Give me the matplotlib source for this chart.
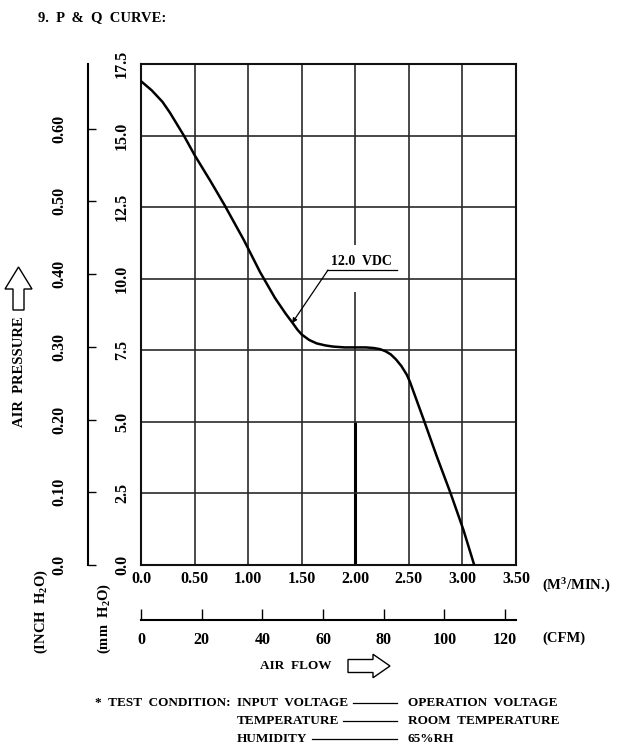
import matplotlib
matplotlib.use('Agg')
import matplotlib.pyplot as plt
from matplotlib.patches import FancyArrow
from matplotlib.lines import Line2D

plt.rcParams['font.family'] = ['Liberation Serif', 'DejaVu Serif']
plt.rcParams['font.weight'] = 'bold'
plt.rcParams['mathtext.fontset'] = 'custom'
plt.rcParams['mathtext.rm'] = 'Liberation Serif:bold'
plt.rcParams['mathtext.it'] = 'Liberation Serif:bold'
plt.rcParams['mathtext.default'] = 'regular'

# P-Q curve at 12.0 VDC (air flow in m3/min, pressure in mm H2O)
flow = [0.00, 0.10, 0.20, 0.27, 0.40, 0.50, 0.65, 0.78, 0.96, 1.11, 1.25, 1.35,
        1.41, 1.46, 1.50, 1.57, 1.64, 1.72, 1.79, 1.90, 2.00, 2.10, 2.17, 2.23,
        2.28, 2.33, 2.38, 2.43, 2.48, 2.51, 2.64, 2.76, 2.89, 3.01, 3.11]
pressure = [16.90, 16.58, 16.18, 15.80, 15.00, 14.32, 13.40, 12.57, 11.35, 10.24,
            9.33, 8.78, 8.48, 8.22, 8.05, 7.86, 7.74, 7.67, 7.63, 7.60, 7.60,
            7.60, 7.58, 7.54, 7.47, 7.36, 7.18, 6.95, 6.65, 6.40, 5.06, 3.80,
            2.50, 1.22, 0.00]

mm_ticks = [0.0, 2.5, 5.0, 7.5, 10.0, 12.5, 15.0, 17.5]
mm_labels = ['0.0', '2.5', '5.0', '7.5', '10.0', '12.5', '15.0', '17.5']
inch_ticks = [0.0, 0.1, 0.2, 0.3, 0.4, 0.5, 0.6]
inch_labels = ['0.0', '0.10', '0.20', '0.30', '0.40', '0.50', '0.60']
cmm_ticks = [0.0, 0.5, 1.0, 1.5, 2.0, 2.5, 3.0, 3.5]
cmm_labels = ['0.0', '0.50', '1.00', '1.50', '2.00', '2.50', '3.00', '3.50']
cfm_ticks = [0, 20, 40, 60, 80, 100, 120]
cfm_labels = ['0', '20', '40', '60', '80', '100', '120']

W, H = 627, 754
fig = plt.figure(figsize=(W / 100, H / 100), dpi=100)


def fx(px):
    return px / W


def fy(py):
    return 1 - py / H


# main grid
ax = fig.add_axes([fx(141), fy(565), fx(375), 501 / H])
ax.set_xlim(0, 3.5)
ax.set_ylim(0, 17.5)
grid_kw = dict(color='#2a2a2a', lw=1.2, zorder=1)
for x in cmm_ticks[1:-1]:
    if x == 2.0:
        ax.vlines(x, 0, 9.54, **grid_kw)
        ax.vlines(x, 11.18, 17.5, **grid_kw)
        ax.vlines(x, 0, 5.0, color='black', lw=2.2, zorder=1)
    else:
        ax.vlines(x, 0, 17.5, **grid_kw)
for y in mm_ticks[1:-1]:
    ax.hlines(y, 0, 3.5, **grid_kw)
for s in ax.spines.values():
    s.set_linewidth(1.5)
    s.set_color('#111111')

ax.plot(flow, pressure, color='black', lw=1.8, zorder=3, solid_joinstyle='round')

ax.set_yticks(mm_ticks)
ax.set_yticklabels(mm_labels, rotation=90, va='center')
ax.set_xticks(cmm_ticks)
ax.set_xticklabels(cmm_labels)
ax.tick_params(axis='y', length=0, pad=8, labelsize=11.5)
ax.tick_params(axis='x', length=0, pad=4, labelsize=11.5)

# 12.0 VDC label
ax.text(1.77, 10.38, '12.0  VDC', fontsize=10, ha='left', va='bottom', zorder=4)
ax.plot([1.74, 2.39], [10.3, 10.3], color='black', lw=0.9, zorder=4)
ax.annotate('', xy=(1.41, 8.45), xytext=(1.745, 10.3),
            arrowprops=dict(arrowstyle='-|>', lw=0.9, color='black',
                            mutation_scale=7, shrinkA=0, shrinkB=0), zorder=4)

# inch H2O axis
axi = fig.add_axes([fx(88), fy(565), 0.01, 501 / H])
axi.set_ylim(0, 17.5 / 25.4)
axi.set_xticks([])
for k in ['top', 'right', 'bottom']:
    axi.spines[k].set_visible(False)
axi.spines['left'].set_linewidth(1.5)
axi.patch.set_visible(False)
axi.set_yticks(inch_ticks)
axi.set_yticklabels(inch_labels, rotation=90, va='center')
axi.tick_params(axis='y', direction='in', length=6, width=1.0, pad=15, labelsize=11.5)

# CFM axis
axc = fig.add_axes([fx(141), fy(620), fx(375), 0.001])
axc.set_xlim(0, 3.5 * 35.3147)
axc.set_yticks([])
for k in ['top', 'right', 'left']:
    axc.spines[k].set_visible(False)
axc.spines['bottom'].set_linewidth(1.5)
axc.patch.set_visible(False)
axc.set_xticks(cfm_ticks)
axc.set_xticklabels(cfm_labels)
axc.tick_params(axis='x', direction='in', length=8, width=1.0, pad=9, labelsize=11.5)

# texts
fig.text(fx(38), fy(18), '9.  P  &  Q  CURVE:', ha='left', va='center', fontsize=10.5)
fig.text(fx(20), fy(372), 'AIR  PRESSURE', rotation=90, ha='center', va='center', fontsize=10.5)
fig.text(fx(41), fy(612), '(INCH  H$_2$O)', rotation=90, ha='center', va='center', fontsize=10.5)
fig.text(fx(104), fy(618), '(mm  H$_2$O)', rotation=90, ha='center', va='center', fontsize=10.5)
fig.text(fx(542), fy(586), '(M$^3$/MIN.)', ha='left', va='center', fontsize=10.5)
fig.text(fx(542), fy(638), '(CFM)', ha='left', va='center', fontsize=10.5)
fig.text(fx(332), fy(666), 'AIR  FLOW', ha='right', va='center', fontsize=9.5)

# block arrows (inches)
fig.patches.append(FancyArrow(0.185, (H - 310) / 100, 0, 0.43, width=0.11,
                              head_width=0.27, head_length=0.22,
                              length_includes_head=True, fc='white', ec='black',
                              lw=1.0, transform=fig.dpi_scale_trans))
fig.patches.append(FancyArrow(3.48, (H - 666) / 100, 0.42, 0, width=0.13,
                              head_width=0.235, head_length=0.17,
                              length_includes_head=True, fc='white', ec='black',
                              lw=1.0, transform=fig.dpi_scale_trans))

# test condition block
rows = [(703, 'INPUT  VOLTAGE', 353, 'OPERATION  VOLTAGE'),
        (721, 'TEMPERATURE', 343, 'ROOM  TEMPERATURE'),
        (739, 'HUMIDITY', 312, '65%RH')]
fig.text(fx(95), fy(703), '*  TEST  CONDITION:', ha='left', va='center', fontsize=9.5)
for py, left, x0, right in rows:
    fig.text(fx(237), fy(py), left, ha='left', va='center', fontsize=9.5)
    fig.lines.append(Line2D([fx(x0), fx(397)], [fy(py), fy(py)], color='black',
                            lw=0.9, transform=fig.transFigure))
    fig.text(fx(408), fy(py), right, ha='left', va='center', fontsize=9.5)

fig.savefig('out.png', dpi=100)
